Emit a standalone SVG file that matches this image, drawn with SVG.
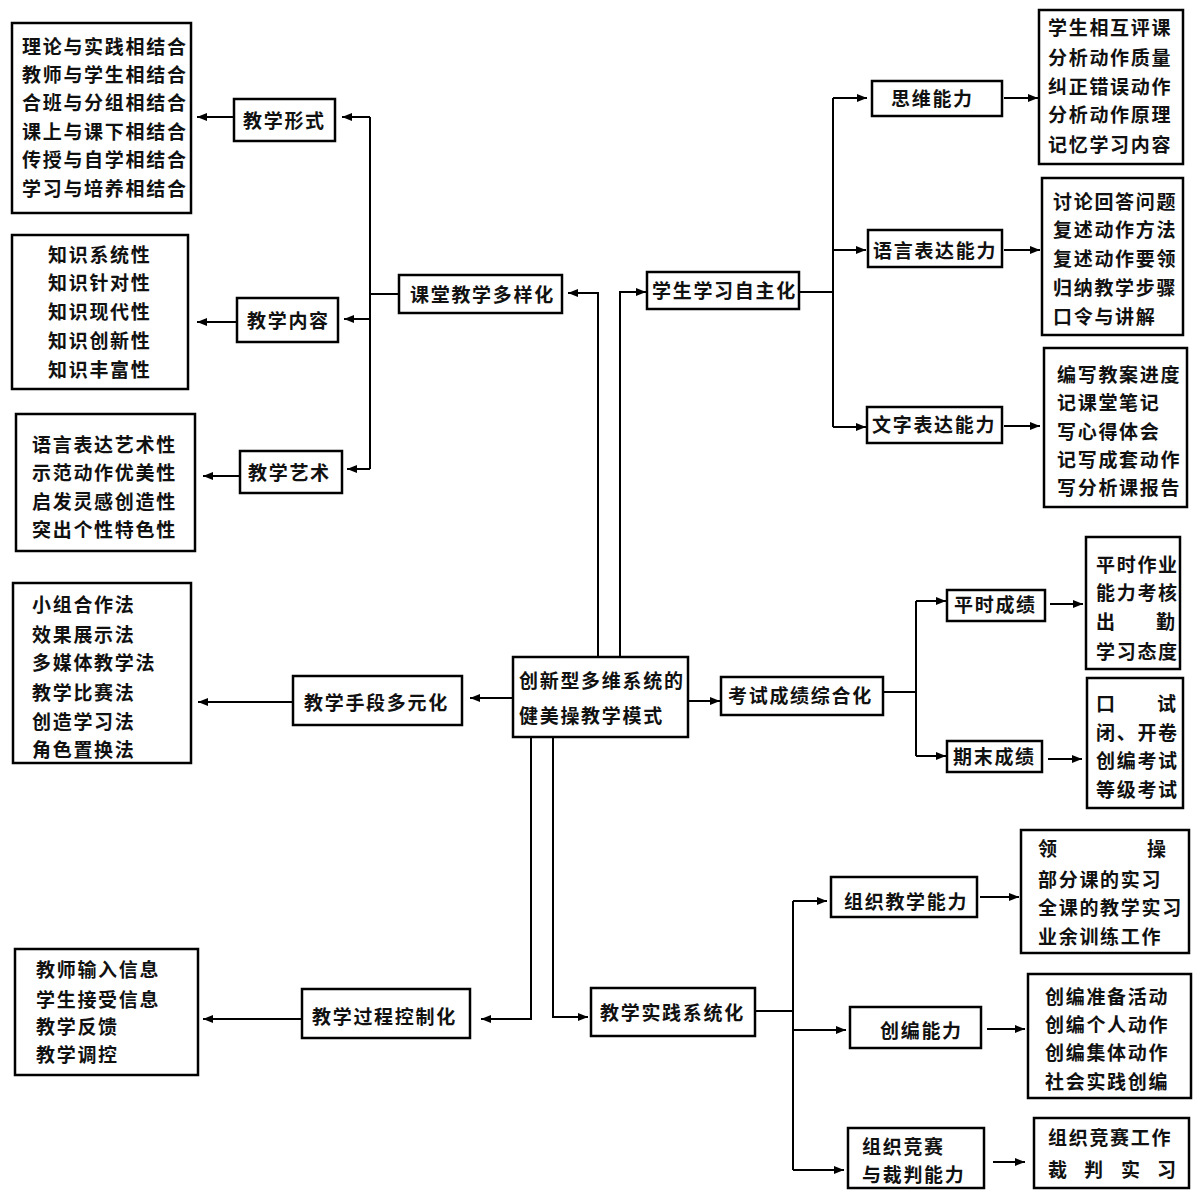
<svg xmlns="http://www.w3.org/2000/svg" width="1196" height="1190" viewBox="0 0 1196 1190">
<style>
.b{fill:#fff;stroke:#000;stroke-width:2.5}
.t{font-family:"Noto Sans CJK SC","Noto Sans CJK JP",sans-serif;font-size:19px;letter-spacing:1.7px;font-weight:bold;fill:#111}
.c{fill:none;stroke:#000;stroke-width:2}
</style>
<defs>
<marker id="ah" markerUnits="userSpaceOnUse" markerWidth="11" markerHeight="9" refX="10" refY="4" orient="auto">
<path d="M0,0 L10,4 L0,8 z" fill="#000"/>
</marker>
</defs>
<rect width="1196" height="1190" fill="#fff"/>
<g id="connectors" class="c">
<path d="M399,294 H370"/>
<path d="M370,117 V469"/>
<path d="M370,117 H342" marker-end="url(#ah)"/>
<path d="M370,319 H344" marker-end="url(#ah)"/>
<path d="M370,469 H347" marker-end="url(#ah)"/>
<path d="M233,117 H197" marker-end="url(#ah)"/>
<path d="M237,322 H197" marker-end="url(#ah)"/>
<path d="M240,476 H203" marker-end="url(#ah)"/>
<path d="M598,657 V293 H568" marker-end="url(#ah)"/>
<path d="M620,657 V292 H646" marker-end="url(#ah)"/>
<path d="M799,292 H833"/>
<path d="M833,98 V427"/>
<path d="M833,98 H867" marker-end="url(#ah)"/>
<path d="M833,250 H866" marker-end="url(#ah)"/>
<path d="M833,427 H866" marker-end="url(#ah)"/>
<path d="M1004,98 H1038" marker-end="url(#ah)"/>
<path d="M1004,250 H1040" marker-end="url(#ah)"/>
<path d="M1004,426 H1040" marker-end="url(#ah)"/>
<path d="M513,698 H470" marker-end="url(#ah)"/>
<path d="M293,702 H198" marker-end="url(#ah)"/>
<path d="M688,701 H720" marker-end="url(#ah)"/>
<path d="M883,692 H916"/>
<path d="M916,601 V756"/>
<path d="M916,601 H946" marker-end="url(#ah)"/>
<path d="M916,756 H946" marker-end="url(#ah)"/>
<path d="M1050,604 H1083" marker-end="url(#ah)"/>
<path d="M1048,759 H1082" marker-end="url(#ah)"/>
<path d="M531,737 V1019 H481" marker-end="url(#ah)"/>
<path d="M302,1019 H203" marker-end="url(#ah)"/>
<path d="M553,737 V1017 H588" marker-end="url(#ah)"/>
<path d="M755,1011 H793"/>
<path d="M793,901 V1170"/>
<path d="M793,901 H827" marker-end="url(#ah)"/>
<path d="M793,1030 H846" marker-end="url(#ah)"/>
<path d="M793,1170 H844" marker-end="url(#ah)"/>
<path d="M980,897 H1019" marker-end="url(#ah)"/>
<path d="M987,1029 H1025" marker-end="url(#ah)"/>
<path d="M993,1162 H1025" marker-end="url(#ah)"/>
</g>
<g id="n-form-items"><rect class="b" x="12" y="23" width="179" height="190"/>
<text class="t" x="22" y="54">理论与实践相结合</text><text class="t" x="22" y="82">教师与学生相结合</text><text class="t" x="22" y="110">合班与分组相结合</text><text class="t" x="22" y="139">课上与课下相结合</text><text class="t" x="22" y="167">传授与自学相结合</text><text class="t" x="22" y="196">学习与培养相结合</text></g>
<g id="n-form"><rect class="b" x="234" y="99" width="101" height="42"/><text class="t" x="243" y="128">教学形式</text></g>
<g id="n-content-items"><rect class="b" x="12" y="235" width="176" height="154"/>
<text class="t" x="48" y="262">知识系统性</text><text class="t" x="48" y="290">知识针对性</text><text class="t" x="48" y="319">知识现代性</text><text class="t" x="48" y="348">知识创新性</text><text class="t" x="48" y="377">知识丰富性</text></g>
<g id="n-content"><rect class="b" x="237" y="298" width="101" height="44"/><text class="t" x="247" y="328">教学内容</text></g>
<g id="n-art-items"><rect class="b" x="16" y="414" width="179" height="137"/>
<text class="t" x="32" y="452">语言表达艺术性</text><text class="t" x="32" y="480">示范动作优美性</text><text class="t" x="32" y="509">启发灵感创造性</text><text class="t" x="32" y="537">突出个性特色性</text></g>
<g id="n-art"><rect class="b" x="240" y="451" width="102" height="42"/><text class="t" x="248" y="480">教学艺术</text></g>
<g id="n-class"><rect class="b" x="399" y="275" width="163" height="38"/><text class="t" x="410" y="302">课堂教学多样化</text></g>
<g id="n-means-items"><rect class="b" x="13" y="583" width="178" height="180"/>
<text class="t" x="32" y="612">小组合作法</text><text class="t" x="32" y="642">效果展示法</text><text class="t" x="32" y="670">多媒体教学法</text><text class="t" x="32" y="700">教学比赛法</text><text class="t" x="32" y="729">创造学习法</text><text class="t" x="32" y="757">角色置换法</text></g>
<g id="n-means"><rect class="b" x="293" y="676" width="169" height="49"/><text class="t" x="304" y="710">教学手段多元化</text></g>
<g id="n-center"><rect class="b" x="513" y="657" width="175" height="80"/><text class="t" x="519" y="688">创新型多维系统的</text><text class="t" x="519" y="723">健美操教学模式</text></g>
<g id="n-student"><rect class="b" x="647" y="272" width="152" height="37"/><text class="t" x="652" y="298">学生学习自主化</text></g>
<g id="n-think"><rect class="b" x="872" y="81" width="130" height="35"/><text class="t" x="891" y="106">思维能力</text></g>
<g id="n-speak"><rect class="b" x="868" y="230" width="134" height="37"/><text class="t" x="873" y="258">语言表达能力</text></g>
<g id="n-write"><rect class="b" x="867" y="407" width="135" height="36"/><text class="t" x="872" y="432">文字表达能力</text></g>
<g id="n-think-items"><rect class="b" x="1039" y="10" width="144" height="154"/>
<text class="t" x="1048" y="35">学生相互评课</text><text class="t" x="1048" y="65">分析动作质量</text><text class="t" x="1048" y="94">纠正错误动作</text><text class="t" x="1048" y="122">分析动作原理</text><text class="t" x="1048" y="152">记忆学习内容</text></g>
<g id="n-speak-items"><rect class="b" x="1042" y="178" width="141" height="157"/>
<text class="t" x="1053" y="209">讨论回答问题</text><text class="t" x="1053" y="237">复述动作方法</text><text class="t" x="1053" y="266">复述动作要领</text><text class="t" x="1053" y="295">归纳教学步骤</text><text class="t" x="1053" y="324">口令与讲解</text></g>
<g id="n-write-items"><rect class="b" x="1044" y="348" width="143" height="159"/>
<text class="t" x="1057" y="382">编写教案进度</text><text class="t" x="1057" y="410">记课堂笔记</text><text class="t" x="1057" y="439">写心得体会</text><text class="t" x="1057" y="467">记写成套动作</text><text class="t" x="1057" y="495">写分析课报告</text></g>
<g id="n-exam"><rect class="b" x="721" y="677" width="162" height="38"/><text class="t" x="728" y="703">考试成绩综合化</text></g>
<g id="n-usual"><rect class="b" x="947" y="590" width="98" height="31"/><text class="t" x="954" y="612">平时成绩</text></g>
<g id="n-final"><rect class="b" x="947" y="741" width="95" height="31"/><text class="t" x="953" y="764">期末成绩</text></g>
<g id="n-usual-items"><rect class="b" x="1086" y="537" width="94" height="132"/>
<text class="t" x="1096" y="572">平时作业</text><text class="t" x="1096" y="600">能力考核</text><text class="t" x="1096" y="629">出</text><text class="t" x="1156" y="629">勤</text><text class="t" x="1096" y="659">学习态度</text></g>
<g id="n-final-items"><rect class="b" x="1087" y="678" width="96" height="130"/>
<text class="t" x="1096" y="711">口</text><text class="t" x="1157" y="711">试</text><text class="t" x="1096" y="740">闭、开卷</text><text class="t" x="1096" y="768">创编考试</text><text class="t" x="1096" y="797">等级考试</text></g>
<g id="n-process"><rect class="b" x="302" y="989" width="168" height="49"/><text class="t" x="312" y="1024">教学过程控制化</text></g>
<g id="n-process-items"><rect class="b" x="15" y="949" width="183" height="126"/>
<text class="t" x="36" y="977">教师输入信息</text><text class="t" x="36" y="1007">学生接受信息</text><text class="t" x="36" y="1034">教学反馈</text><text class="t" x="36" y="1062">教学调控</text></g>
<g id="n-practice"><rect class="b" x="591" y="988" width="164" height="48"/><text class="t" x="600" y="1020">教学实践系统化</text></g>
<g id="n-organize"><rect class="b" x="831" y="877" width="146" height="40"/><text class="t" x="844" y="909">组织教学能力</text></g>
<g id="n-create"><rect class="b" x="850" y="1007" width="131" height="41"/><text class="t" x="880" y="1038">创编能力</text></g>
<g id="n-compete"><rect class="b" x="848" y="1128" width="136" height="60"/><text class="t" x="862" y="1154">组织竞赛</text><text class="t" x="862" y="1182">与裁判能力</text></g>
<g id="n-organize-items"><rect class="b" x="1021" y="830" width="168" height="123"/>
<text class="t" x="1038" y="856">领</text><text class="t" x="1147" y="856">操</text><text class="t" x="1038" y="887">部分课的实习</text><text class="t" x="1038" y="915">全课的教学实习</text><text class="t" x="1038" y="944">业余训练工作</text></g>
<g id="n-create-items"><rect class="b" x="1028" y="974" width="163" height="124"/>
<text class="t" x="1045" y="1004">创编准备活动</text><text class="t" x="1045" y="1032">创编个人动作</text><text class="t" x="1045" y="1060">创编集体动作</text><text class="t" x="1045" y="1089">社会实践创编</text></g>
<g id="n-compete-items"><rect class="b" x="1034" y="1118" width="155" height="70"/>
<text class="t" x="1048" y="1145">组织竞赛工作</text><text class="t" x="1048" y="1177">裁</text><text class="t" x="1084" y="1177">判</text><text class="t" x="1121" y="1177">实</text><text class="t" x="1157" y="1177">习</text></g>
</svg>
